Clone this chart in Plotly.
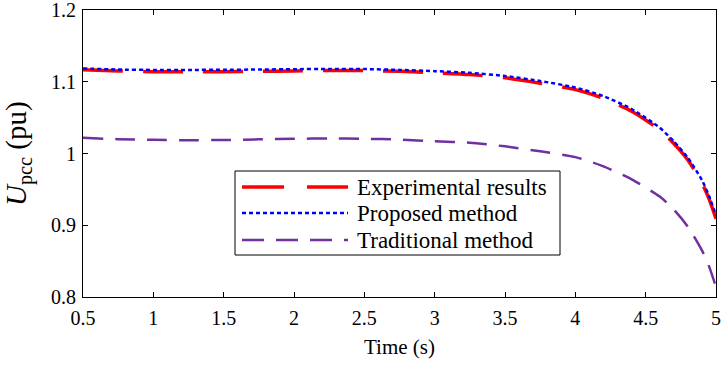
import plotly.graph_objects as go

time_s = [0.5, 0.75, 1.0, 1.25, 1.5, 1.75, 2.0, 2.25, 2.5, 2.75, 3.0, 3.25, 3.5, 3.75,
          4.0, 4.2, 4.4, 4.6, 4.7, 4.8, 4.9, 4.95, 5.0]
experimental = [1.1167, 1.115, 1.114, 1.114, 1.114, 1.1145, 1.115, 1.1157, 1.1155, 1.1145,
                1.1125, 1.110, 1.1055, 1.098, 1.089, 1.077, 1.059, 1.033, 1.014, 0.991,
                0.959, 0.937, 0.909]
proposed = [1.1185, 1.117, 1.1165, 1.1165, 1.1167, 1.117, 1.1175, 1.1178, 1.1177, 1.1165,
            1.1148, 1.1125, 1.108, 1.101, 1.092, 1.080, 1.062, 1.036, 1.017, 0.994,
            0.963, 0.941, 0.914]
traditional = [1.0218, 1.020, 1.019, 1.0185, 1.0188, 1.0197, 1.0205, 1.021, 1.0205, 1.0195,
               1.017, 1.015, 1.010, 1.003, 0.995, 0.982, 0.964, 0.940, 0.922, 0.898,
               0.865, 0.843, 0.814]
names = ["Experimental results", "Proposed method", "Traditional method"]
colors = ["#FF0000", "#0000FF", "#7030A0"]
dashes = ["40px,20px", "4px,3px", "20px,12px"]
widths = [3.5, 2.5, 2.5]
x_ticks = [0.5, 1, 1.5, 2, 2.5, 3, 3.5, 4, 4.5, 5]
x_tick_text = ["0.5", "1", "1.5", "2", "2.5", "3", "3.5", "4", "4.5", "5"]
y_ticks = [0.8, 0.9, 1.0, 1.1, 1.2]
y_tick_text = ["0.8", "0.9", "1", "1.1", "1.2"]

FONT = "Liberation Serif"

fig = go.Figure()
for name, ys, c, d, w in zip(names, [experimental, proposed, traditional], colors, dashes, widths):
    fig.add_trace(go.Scatter(x=time_s, y=ys, mode="lines", name=name,
                             line=dict(color=c, dash=d, width=w, shape="spline", smoothing=0.6),
                             showlegend=False))

W, H = 726, 367
L, R, T, B = 83, 10, 10, 70
pw, ph = W - L - R, H - T - B

def px_x(x):
    return (x - L) / pw

def px_y(y):
    return 1 - (y - T) / ph

shapes = [dict(type="rect", xref="paper", yref="paper",
               x0=px_x(235), x1=px_x(560), y0=px_y(255), y1=px_y(171),
               line=dict(color="black", width=1), fillcolor="white", layer="above")]
annotations = []
leg_dash = ["42px,23px", "4px,3px", "22px,12px"]
rows = [187, 213, 240]
for name, c, d, w, ry in zip(names, colors, leg_dash, widths, rows):
    shapes.append(dict(type="line", xref="paper", yref="paper",
                       x0=px_x(242), x1=px_x(348), y0=px_y(ry), y1=px_y(ry),
                       line=dict(color=c, dash=d, width=w), layer="above"))
    annotations.append(dict(xref="paper", yref="paper", x=px_x(355), y=px_y(ry),
                            xanchor="left", yanchor="middle", text=name, showarrow=False,
                            font=dict(family=FONT, size=23, color="black")))

annotations.append(dict(xref="paper", yref="paper", x=px_x(18), y=px_y(154),
                        xanchor="center", yanchor="middle", textangle=-90,
                        text="<i>U</i><sub>pcc</sub> (pu)", showarrow=False,
                        font=dict(family=FONT, size=29, color="black")))

fig.update_layout(
    width=W, height=H,
    margin=dict(l=L, r=R, t=T, b=B),
    paper_bgcolor="white", plot_bgcolor="white",
    font=dict(family=FONT, color="black", size=20),
    shapes=shapes, annotations=annotations,
    xaxis=dict(range=[0.5, 5], tickvals=x_ticks, ticktext=x_tick_text, automargin=False,
               ticks="inside", ticklen=5, tickcolor="black", showline=True,
               linecolor="black", linewidth=1, mirror="ticks", showgrid=False,
               zeroline=False, tickfont=dict(size=20), ticklabelstandoff=3,
               ticklabeloverflow="allow",
               title=dict(text="Time (s)", font=dict(size=21), standoff=11)),
    yaxis=dict(range=[0.8, 1.2], tickvals=y_ticks, ticktext=y_tick_text, automargin=False,
               ticks="inside", ticklen=5, tickcolor="black", showline=True,
               linecolor="black", linewidth=1, mirror="ticks", showgrid=False,
               zeroline=False, tickfont=dict(size=20), ticklabelstandoff=2,
               ticklabeloverflow="allow"),
)

fig.write_html("out.html", config={"displayModeBar": False},
               post_script="document.body.style.margin='0';")
